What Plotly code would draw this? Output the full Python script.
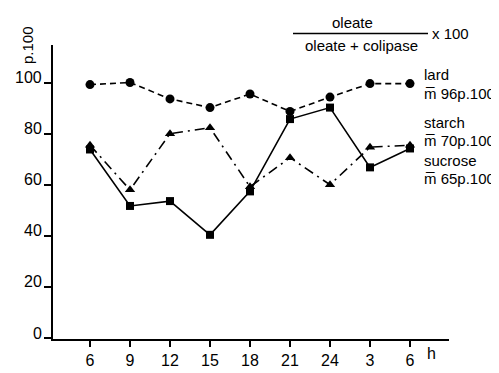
import plotly.graph_objects as go

hours = ["6", "9", "12", "15", "18", "21", "24", "3", "6"]
lard = [99.2, 100, 93.6, 90.2, 95.5, 88.7, 94.3, 99.6, 99.6]
starch = [75.5, 58, 80, 82.3, 59.2, 70.6, 60, 74.7, 75.5]
sucrose = [73.8, 51.7, 53.6, 40.4, 57.4, 85.7, 90.2, 66.8, 74.2]
y_ticks = [0, 20, 40, 60, 80, 100]

W, H = 499, 373
L, R, T, B = 45, 441, 37, 342
FONT = "Liberation Sans"

def px(x):
    return (x - L) / (R - L)

def py(y):
    return (B - y) / (B - T)

idx = list(range(len(hours)))
fig = go.Figure()
fig.add_trace(go.Scatter(x=idx, y=lard, mode="lines+markers",
                         line=dict(color="black", width=1.6, dash="6px,4px"),
                         marker=dict(symbol="circle", size=9, color="black")))
fig.add_trace(go.Scatter(x=idx, y=starch, mode="lines+markers",
                         line=dict(color="black", width=1.6, dash="10px,5px,2px,5px"),
                         marker=dict(symbol="triangle-up", size=9, color="black")))
fig.add_trace(go.Scatter(x=idx, y=sucrose, mode="lines+markers",
                         line=dict(color="black", width=1.6),
                         marker=dict(symbol="square", size=8, color="black")))

ann = []
for v in y_ticks:
    ann.append(dict(x=0, xref="paper", y=v, yref="y", text=str(v), showarrow=False,
                    xanchor="right", yanchor="middle", xshift=-9, yshift=5,
                    font=dict(size=16, color="black", family=FONT)))

def txt(x, y, s, anchor="left", size=15, angle=0):
    ann.append(dict(x=px(x), y=py(y), xref="paper", yref="paper", text=s, showarrow=False,
                    xanchor=anchor, yanchor="middle", textangle=angle, borderpad=0,
                    font=dict(size=size, color="black", family=FONT)))

txt(423, 357, "h", "center", 16)
txt(19, 37, "p.100", "center", 15, -90)
txt(344, 14, "oleate", "center", 15)
txt(353, 38, "oleate + colipase", "center", 15)
txt(423, 25, "x 100", "left", 15)
txt(415, 68, "lard")
txt(415, 87, "m\u0305 96p.100")
txt(415, 117, "starch")
txt(415, 136, "m\u0305 70p.100")
txt(415, 157, "sucrose")
txt(415, 176, "m\u0305 65p.100")

fig.update_layout(
    width=W, height=H,
    margin=dict(l=L, r=W - R, t=T, b=H - B),
    paper_bgcolor="white", plot_bgcolor="white",
    showlegend=False,
    annotations=ann,
    shapes=[dict(type="line", xref="paper", yref="paper", x0=px(285), x1=px(420),
                 y0=py(25), y1=py(25), line=dict(color="black", width=1.5))],
    xaxis=dict(range=[-0.925, 8.975], tickvals=idx, ticktext=hours, showgrid=False,
               zeroline=False, showline=True, linecolor="black", linewidth=2,
               ticks="outside", ticklen=6, tickwidth=1.5, tickcolor="black",
               tickfont=dict(size=16, color="black", family=FONT)),
    yaxis=dict(range=[-0.38, 114.7], tickvals=y_ticks, showticklabels=False, showgrid=False,
               zeroline=False, showline=True, linecolor="black", linewidth=2,
               ticks="outside", ticklen=7, tickwidth=1.5, tickcolor="black"),
)
fig.write_html("out.html")
